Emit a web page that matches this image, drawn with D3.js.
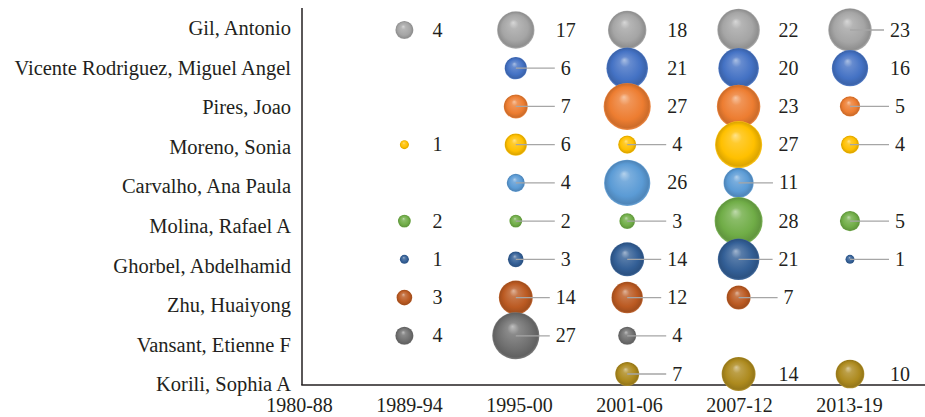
<!DOCTYPE html>
<html><head><meta charset="utf-8">
<script src="https://cdn.jsdelivr.net/npm/d3@7"></script>
</head>
<body style="margin:0"><svg id="chart" width="925" height="417"></svg>
<script>
const periods = ["1980-88","1989-94","1995-00","2001-06","2007-12","2013-19"];
const authors = ["Gil, Antonio","Vicente Rodriguez, Miguel Angel","Pires, Joao","Moreno, Sonia","Carvalho, Ana Paula","Molina, Rafael A","Ghorbel, Abdelhamid","Zhu, Huaiyong","Vansant, Etienne F","Korili, Sophia A"];
const gil      = [null, 4, 17, 18, 22, 23];
const vicente  = [null, null, 6, 21, 20, 16];
const pires    = [null, null, 7, 27, 23, 5];
const moreno   = [null, 1, 6, 4, 27, 4];
const carvalho = [null, null, 4, 26, 11, null];
const molina   = [null, 2, 2, 3, 28, 5];
const ghorbel  = [null, 1, 3, 14, 21, 1];
const zhu      = [null, 3, 14, 12, 7, null];
const vansant  = [null, 4, 27, 4, null, null];
const korili   = [null, null, null, 7, 14, 10];
const seriesValues = [gil, vicente, pires, moreno, carvalho, molina, ghorbel, zhu, vansant, korili];
const colors = ["#a5a5a5","#4472c4","#ed7d31","#ffc000","#5b9bd5","#70ad47","#335f96","#bb5a22","#707070","#ad8a1e"];

// labels drawn with a leader line (row index | period index)
const withLeader = new Set(["0|5","1|2","2|2","2|5","3|2","3|3","3|5","4|2","4|4","5|2","5|3","5|5","6|2","6|3","6|4","6|5","7|2","7|3","7|4","8|2","8|3","9|3"]);

const FONT = "Liberation Serif";
const TXT = "#231f20";
const svg = d3.select("#chart");
const axisLeftX = 302, axisBottomY = 385;

const x = d3.scalePoint().domain(periods).range([293, 850]);
const xLab = d3.scalePoint().domain(periods).range([299, 849]);
const y = d3.scalePoint().domain(authors).range([30, 374]);
const yLab = d3.scalePoint().domain(authors).range([28, 384]);
const r = d3.scaleSqrt().domain([0, 28]).range([0, 24]);

// gradients
const defs = svg.append("defs");
colors.forEach((c, i) => {
  const base = d3.color(c);
  const g = defs.append("radialGradient").attr("id", "g" + i)
    .attr("cx", "0.5").attr("cy", "0.5").attr("r", "0.5")
    .attr("fx", "0.43").attr("fy", "0.3");
  const light = d3.interpolateRgb(c, "#ffffff");
  g.append("stop").attr("offset", "0%").attr("stop-color", light(0.55));
  g.append("stop").attr("offset", "25%").attr("stop-color", light(0.18));
  g.append("stop").attr("offset", "70%").attr("stop-color", c);
  g.append("stop").attr("offset", "93%").attr("stop-color", base.darker(0.4));
  g.append("stop").attr("offset", "100%").attr("stop-color", light(0.1));
});

// axes lines
svg.append("line").attr("x1", axisLeftX).attr("x2", axisLeftX).attr("y1", 8).attr("y2", axisBottomY)
  .attr("stroke", TXT).attr("stroke-width", 1.5);
svg.append("line").attr("x1", axisLeftX - 0.75).attr("x2", 925).attr("y1", axisBottomY).attr("y2", axisBottomY)
  .attr("stroke", TXT).attr("stroke-width", 1.5);

// category axes (labels only)
const gx = svg.append("g").attr("transform", `translate(0,${axisBottomY})`)
  .call(d3.axisBottom(xLab).tickSize(0).tickPadding(0));
gx.attr("font-family", FONT).attr("font-size", 20);
gx.select(".domain").remove();
gx.selectAll("text").attr("y", 0).attr("dy", 26.5).attr("fill", TXT)
  .attr("font-family", FONT).attr("font-size", 20);

const gy = svg.append("g").attr("transform", `translate(291,0)`)
  .call(d3.axisLeft(yLab).tickSize(0).tickPadding(0));
gy.attr("font-family", FONT).attr("font-size", 20.5);
gy.select(".domain").remove();
gy.selectAll("text").attr("x", 0).attr("dy", "0.33em").attr("fill", TXT)
  .attr("font-family", FONT).attr("font-size", 20.5);

// points
const pts = [];
seriesValues.forEach((vals, ri) => {
  vals.forEach((v, ci) => {
    if (v != null) pts.push({ row: ri, col: ci, author: authors[ri], period: periods[ci], value: v });
  });
});

svg.append("g").selectAll("circle").data(pts).join("circle")
  .attr("cx", d => x(d.period)).attr("cy", d => y(d.author)).attr("r", d => r(d.value))
  .attr("fill", d => `url(#g${d.row})`);

const labelOffset = d => (d.col === 1 ? 33 : 50);
const lg = svg.append("g");
const lines = lg.append("g");
const texts = lg.append("g")
  .selectAll("text").data(pts).join("text")
  .attr("x", d => x(d.period) + labelOffset(d)).attr("y", d => y(d.author)).attr("dy", "0.33em")
  .attr("text-anchor", "middle").attr("fill", TXT)
  .attr("font-family", FONT).attr("font-size", 20)
  .text(d => d.value);

texts.each(function(d) {
  if (!withLeader.has(d.row + "|" + d.col)) return;
  const w = this.getComputedTextLength();
  const start = x(d.period) + labelOffset(d) - w / 2 - 6;
  lines.append("line").attr("x1", x(d.period)).attr("x2", start)
    .attr("y1", y(d.author)).attr("y2", y(d.author))
    .attr("stroke", "#a6a6a6").attr("stroke-width", 1.3);
});
</script></body></html>
